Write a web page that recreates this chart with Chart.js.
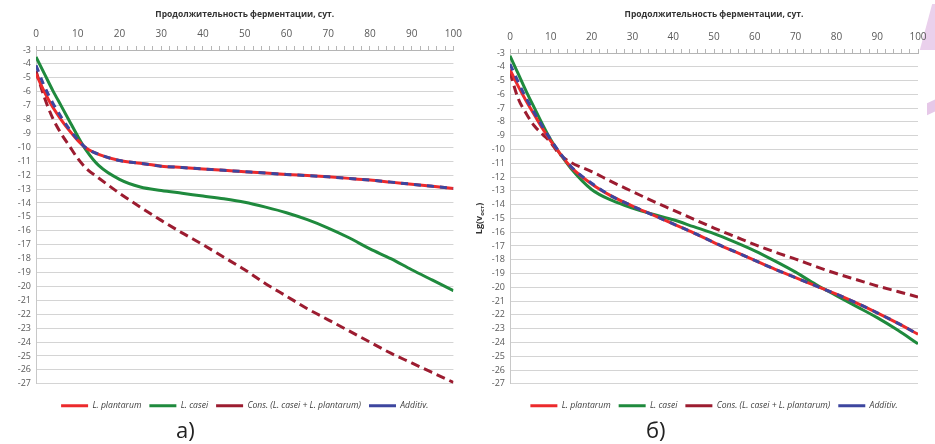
<!DOCTYPE html>
<html>
<head>
<meta charset="utf-8">
<script src="https://cdn.jsdelivr.net/npm/chart.js@4"></script>
<style>
  html, body { margin: 0; padding: 0; background: #fff; }
  body { width: 935px; height: 444px; position: relative; overflow: hidden; font-family: "Open Sans", "Liberation Sans", sans-serif; }
  .box { position: absolute; top: 0; height: 430px; }
  #boxA { left: 0; width: 468px; }
  #boxB { left: 468px; width: 467px; }
  .lbl { position: absolute; top: 414px; font-family: "Open Sans", sans-serif; font-size: 22px; color: #222; line-height: 30px; }
  .deco1 { position: absolute; left: 926px; top: 4px; width: 18px; height: 46px; background: #ead0ec; transform: skewX(-15deg); }
  .deco2 { position: absolute; left: 927px; top: 100px; width: 14px; height: 12px; background: #e6c8e8; transform: skewY(-25deg); }
</style>
</head>
<body>
<div class="deco1"></div>
<div class="deco2"></div>
<div id="boxA" class="box"><canvas id="chartA"></canvas></div>
<div id="boxB" class="box"><canvas id="chartB"></canvas></div>
<div class="lbl" style="left:176px;">а)</div>
<div class="lbl" style="left:646px;">б)</div>
<script>
// ---- data ----
const days = [0, 2, 4, 6, 8, 10, 12, 15, 20, 25, 30, 35, 40, 45, 50, 55, 60, 65, 70, 75, 80, 85, 90, 95, 100];
const seriesNames = ["L. plantarum", "L. casei", "Cons. (L. casei + L. plantarum)", "Additiv."];
const xTitle = "Продолжительность ферментации, сут.";
const yTitleB = "Lg(v";
const yTitleSubB = "ост";

// chart а)
const plantarumA = [-4.7, -6.0, -7.1, -8.0, -8.8, -9.5, -10.05, -10.5, -10.95, -11.15, -11.35, -11.45, -11.55, -11.65, -11.75, -11.85, -11.95, -12.03, -12.12, -12.23, -12.35, -12.5, -12.65, -12.8, -12.95];
const caseiA = [-3.5, -4.7, -5.9, -7.0, -8.1, -9.2, -10.2, -11.3, -12.3, -12.85, -13.1, -13.3, -13.5, -13.7, -13.95, -14.3, -14.7, -15.2, -15.8, -16.5, -17.3, -18.0, -18.8, -19.55, -20.3];
const consA = [-4.5, -6.4, -7.9, -9.0, -9.9, -10.8, -11.5, -12.2, -13.3, -14.3, -15.25, -16.15, -17.0, -17.9, -18.8, -19.8, -20.7, -21.6, -22.4, -23.2, -24.0, -24.8, -25.5, -26.2, -26.9];
const additivA = [-4.1, -5.6, -6.8, -7.8, -8.7, -9.45, -10.05, -10.5, -10.95, -11.15, -11.35, -11.45, -11.55, -11.65, -11.75, -11.85, -11.95, -12.03, -12.12, -12.23, -12.35, -12.5, -12.65, -12.8, -12.95];

// chart б)
const plantarumB = [-4.2, -5.4, -6.5, -7.5, -8.5, -9.4, -10.2, -11.3, -12.5, -13.4, -14.1, -14.75, -15.4, -16.05, -16.75, -17.4, -18.05, -18.7, -19.3, -19.9, -20.5, -21.15, -21.85, -22.6, -23.4];
const caseiB = [-3.2, -4.5, -5.8, -7.0, -8.2, -9.3, -10.2, -11.4, -12.9, -13.7, -14.25, -14.7, -15.1, -15.6, -16.1, -16.7, -17.35, -18.1, -18.9, -19.8, -20.6, -21.4, -22.2, -23.1, -24.1];
const consB = [-4.4, -6.3, -7.4, -8.3, -8.9, -9.5, -10.3, -10.95, -11.6, -12.35, -13.05, -13.75, -14.4, -15.05, -15.7, -16.3, -16.9, -17.45, -17.95, -18.5, -19.0, -19.45, -19.9, -20.3, -20.7];
const additivB = [-3.8, -5.1, -6.3, -7.35, -8.35, -9.3, -10.15, -11.25, -12.45, -13.4, -14.1, -14.75, -15.4, -16.05, -16.75, -17.4, -18.05, -18.7, -19.3, -19.9, -20.5, -21.15, -21.85, -22.6, -23.4];

const xMin = 0, xMax = 100, xStep = 10, xMinorStep = 2;
const yMin = -27, yMax = -3, yStep = 1;

// ---- styles ----
const colors = ["#ec2a2c", "#1f8a3d", "#9c1c30", "#3d469f"];
const dashes = [[], [], [9, 5], [7, 6]];
const orders = [2, 3, 4, 1];
const fontFamily = "'Open Sans', 'Liberation Sans', sans-serif";

function pts(arr) { return days.map((d, i) => ({ x: d, y: arr[i] })); }

function makeDatasets(list) {
  return list.map((arr, i) => ({
    label: seriesNames[i],
    data: pts(arr),
    borderColor: colors[i],
    backgroundColor: colors[i],
    borderWidth: 3,
    borderDash: dashes[i],
    pointRadius: 0,
    pointHoverRadius: 0,
    fill: false,
    cubicInterpolationMode: 'monotone',
    order: orders[i]
  }));
}

const yLabelPlugin = {
  id: 'yLabelSub',
  afterDraw(chart, args, opts) {
    if (!opts || !opts.show) return;
    const ctx = chart.ctx;
    const area = chart.chartArea;
    ctx.save();
    ctx.translate(opts.x, (area.top + area.bottom) / 2);
    ctx.rotate(-Math.PI / 2);
    ctx.fillStyle = '#333';
    ctx.textBaseline = 'middle';
    ctx.font = "bold 9px " + fontFamily;
    const w1 = ctx.measureText(yTitleB).width;
    ctx.font = "bold 6px " + fontFamily;
    const w2 = ctx.measureText(yTitleSubB).width;
    ctx.font = "bold 9px " + fontFamily;
    const w3 = ctx.measureText(')').width;
    let x0 = -(w1 + w2 + w3) / 2;
    ctx.textAlign = 'left';
    ctx.fillText(yTitleB, x0, 0);
    ctx.font = "bold 6px " + fontFamily;
    ctx.fillText(yTitleSubB, x0 + w1, 3);
    ctx.font = "bold 9px " + fontFamily;
    ctx.fillText(')', x0 + w1 + w2, 0);
    ctx.restore();
  }
};

function makeChart(id, list, yWidth, xHeight, padRight, showYTitle) {
  return new Chart(document.getElementById(id), {
    type: 'line',
    data: { datasets: makeDatasets(list) },
    plugins: [yLabelPlugin],
    options: {
      responsive: true,
      maintainAspectRatio: false,
      animation: false,
      events: [],
      layout: { padding: { left: 0, right: padRight, top: 0, bottom: 10 } },
      scales: {
        x: {
          type: 'linear',
          position: 'top',
          min: xMin, max: xMax,
          afterFit(s) { s.height = xHeight; },
          ticks: {
            stepSize: xMinorStep,
            autoSkip: false,
            maxRotation: 0,
            padding: 6,
            color: '#595959',
            font: { family: fontFamily, size: 10 },
            callback: (v) => (v % xStep === 0 ? String(v) : '')
          },
          grid: { drawOnChartArea: false, drawTicks: true, tickLength: 4, color: '#b5b5b5' },
          border: { display: true, color: '#b5b5b5' },
          title: {
            display: true,
            text: xTitle,
            color: '#333',
            font: { family: fontFamily, size: 8.5, weight: 'bold' },
            padding: { top: 9, bottom: 0 }
          }
        },
        y: {
          type: 'linear',
          min: yMin, max: yMax,
          afterFit(s) { s.width = yWidth; },
          ticks: {
            stepSize: yStep,
            autoSkip: false,
            color: '#595959',
            padding: 5,
            font: { family: fontFamily, size: 9 }
          },
          grid: { color: '#d4d4d4', lineWidth: 1, drawTicks: false },
          border: { display: true, color: '#c8c8c8' }
        }
      },
      plugins: {
        tooltip: { enabled: false },
        yLabelSub: { show: showYTitle, x: 11 },
        legend: {
          position: 'bottom',
          fullSize: false,
          align: 'center',
          title: { display: true, text: '', font: { size: 8 }, padding: 0 },
          labels: {
            usePointStyle: true,
            pointStyle: 'line',
            pointStyleWidth: 27,
            boxWidth: 27,
            boxHeight: 9,
            padding: 8,
            color: '#404040',
            font: { family: fontFamily, size: 8.6, style: 'italic' },
            sort: (a, b) => a.datasetIndex - b.datasetIndex
          }
        }
      }
    }
  });
}

makeChart('chartA', [plantarumA, caseiA, consA, additivA], 36, 50, 10, false);
makeChart('chartB', [plantarumB, caseiB, consB, additivB], 42, 53, 17, true);
</script>
</body>
</html>
